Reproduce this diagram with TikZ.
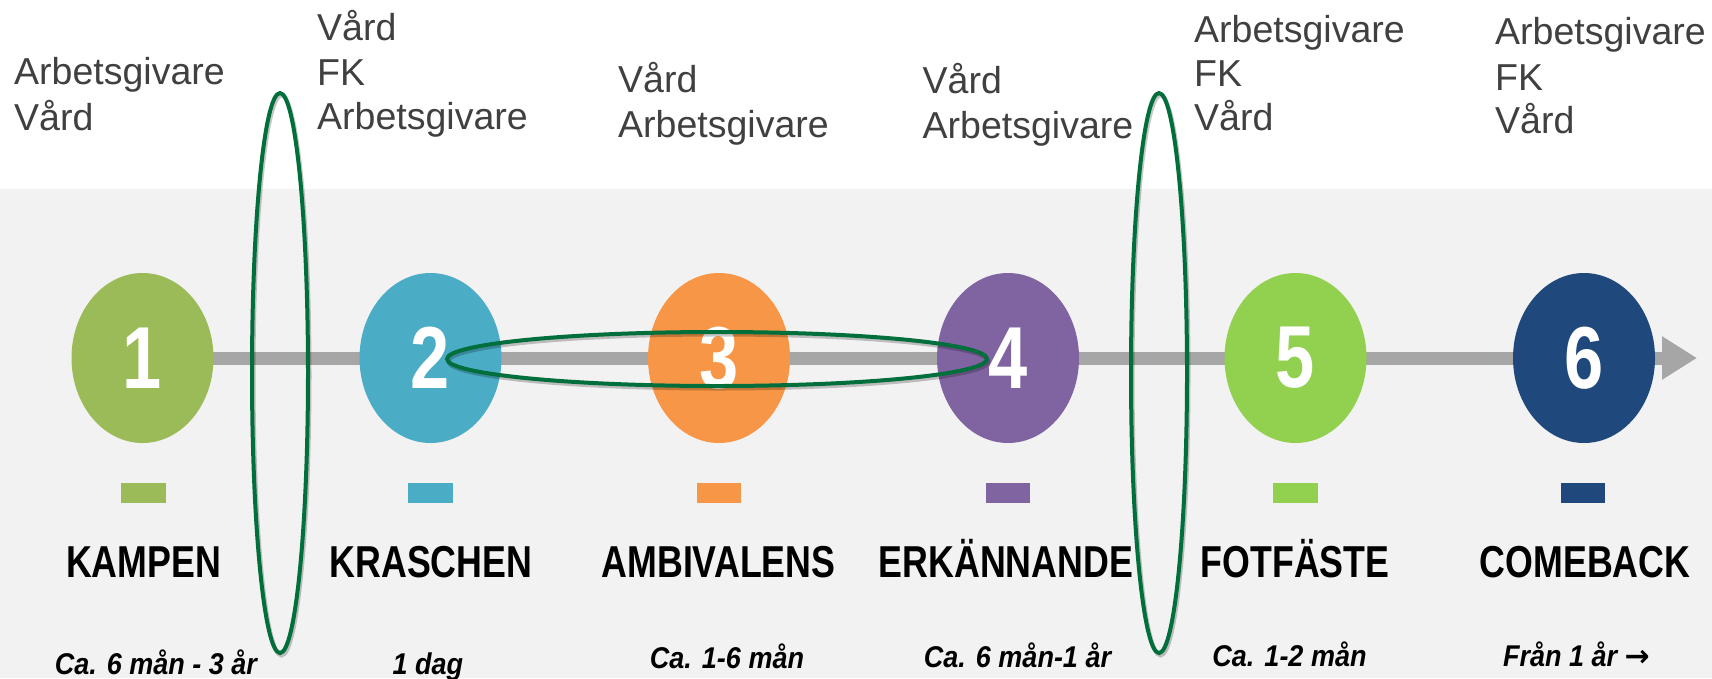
\documentclass[tikz,border=0pt]{standalone}
\usepackage{fontspec}
\setmainfont{Liberation Sans}
\newfontfamily\narrowsans[FakeStretch=0.8]{Liberation Sans}
\newfontfamily\slimsans[FakeStretch=0.9]{Liberation Sans}
\newfontfamily\arrowfont{DejaVu Sans}
\usetikzlibrary{arrows.meta,shapes.geometric}

\definecolor{bgcol}{HTML}{F2F2F2}
\definecolor{axiscol}{HTML}{A6A6A6}
\definecolor{textgray}{HTML}{404040}
\definecolor{ringgreen}{HTML}{006F3C}
\definecolor{phaseA}{HTML}{9BBB59}
\definecolor{phaseB}{HTML}{4BACC6}
\definecolor{phaseC}{HTML}{F79646}
\definecolor{phaseD}{HTML}{8064A2}
\definecolor{phaseE}{HTML}{92D050}
\definecolor{phaseF}{HTML}{1F497D}

\tikzset{
  phasedot/.style={ellipse, minimum width=142pt, minimum height=170pt, inner sep=0pt,
    text=white, font=\narrowsans\bfseries\fontsize{88}{88}\selectfont},
  tagbar/.style={rectangle, minimum width=44.7pt, minimum height=20pt, inner sep=0pt},
  stagelabel/.style={anchor=base, inner sep=0pt,
    font=\narrowsans\bfseries\fontsize{44.7}{50}\selectfont},
  spanlabel/.style={anchor=base, inner sep=0pt,
    font=\slimsans\bfseries\itshape\fontsize{30}{32}\selectfont},
  actorlabel/.style={anchor=base west, inner sep=0pt, text=textgray,
    font=\fontsize{37.5}{45}\selectfont},
  ringline/.style={draw=ringgreen, line width=4pt},
  ringshade/.style={draw=black, opacity=0.22, line width=4pt},
  axisline/.style={draw=axiscol, line width=13pt,
    -{Triangle[length=35pt,width=41pt]}}
}

\begin{document}
\begin{tikzpicture}[x=1pt,y=-1pt]
  \useasboundingbox (0,0) rectangle (1712,678);
  % backdrop
  \fill[white] (0,0) rectangle (1712,189);
  \fill[bgcol] (0,189) rectangle (1712,678);

  % timeline axis
  \coordinate (tip) at (1697,358);
  \coordinate (start) at (142.5,358);
  \draw[axisline] (start) -- (tip);

  % phases
  \node[phasedot, fill=phaseA] (c1) at (142.5,358) {1};
  \node[phasedot, fill=phaseB] (c2) at (430.5,358) {2};
  \node[phasedot, fill=phaseC] (c3) at (719,358) {3};
  \node[phasedot, fill=phaseD] (c4) at (1008,358) {4};
  \node[phasedot, fill=phaseE] (c5) at (1295.5,358) {5};
  \node[phasedot, fill=phaseF] (c6) at (1584,358) {6};

  % colour tags
  \node[tagbar, fill=phaseA] (t1) at (143.5,492.7) {};
  \node[tagbar, fill=phaseB] (t2) at (430.5,492.7) {};
  \node[tagbar, fill=phaseC] (t3) at (719,492.7) {};
  \node[tagbar, fill=phaseD] (t4) at (1008,492.7) {};
  \node[tagbar, fill=phaseE] (t5) at (1295.5,492.7) {};
  \node[tagbar, fill=phaseF] (t6) at (1583,492.7) {};

  % stage names
  \node[stagelabel] (s1) at (143.5,577) {KAMPEN};
  \node[stagelabel] (s2) at (431,577) {KRASCHEN};
  \node[stagelabel] (s3) at (718.5,577) {AMBIVALENS};
  \node[stagelabel] (s4) at (1006,577) {ERKÄNNANDE};
  \node[stagelabel] (s5) at (1295,577) {FOTFÄSTE};
  \node[stagelabel] (s6) at (1585,577) {COMEBACK};

  % durations
  \node[spanlabel] (d1) at (156,674) {Ca. 6 mån - 3 år};
  \node[spanlabel] (d2) at (428,674) {1 dag};
  \node[spanlabel] (d3) at (727,668.5) {Ca. 1-6 mån};
  \node[spanlabel] (d4) at (1017.5,667.5) {Ca. 6 mån-1 år};
  \node[spanlabel] (d5) at (1289.5,666.5) {Ca. 1-2 mån};
  \node[spanlabel] (d6) at (1576.5,666) {Från 1 år {\arrowfont\bfseries\fontsize{30}{32}\selectfont →}};

  % actors involved
  \node[actorlabel] (a1a) at (14,84) {Arbetsgivare};
  \node[actorlabel] (a1b) at (14,130) {Vård};
  \node[actorlabel] (a2a) at (317,40) {Vård};
  \node[actorlabel] (a2b) at (317,85) {FK};
  \node[actorlabel] (a2c) at (317,129) {Arbetsgivare};
  \node[actorlabel] (a3a) at (618,92.5) {Vård};
  \node[actorlabel] (a3b) at (618,137) {Arbetsgivare};
  \node[actorlabel] (a4a) at (922.5,93) {Vård};
  \node[actorlabel] (a4b) at (922.5,138) {Arbetsgivare};
  \node[actorlabel] (a5a) at (1194,42) {Arbetsgivare};
  \node[actorlabel] (a5b) at (1194,86) {FK};
  \node[actorlabel] (a5c) at (1194,130) {Vård};
  \node[actorlabel] (a6a) at (1495,44) {Arbetsgivare};
  \node[actorlabel] (a6b) at (1495,90) {FK};
  \node[actorlabel] (a6c) at (1495,133) {Vård};

  % highlight rings
  \draw[ringshade] (281.5,375.5) ellipse [x radius=28pt, y radius=280pt];
  \draw[ringline] (280,373) ellipse [x radius=28pt, y radius=280pt];
  \draw[ringshade] (1160.5,375.5) ellipse [x radius=28pt, y radius=280pt];
  \draw[ringline] (1159,373) ellipse [x radius=28pt, y radius=280pt];
  \draw[ringshade] (718.5,361.5) ellipse [x radius=270pt, y radius=27pt];
  \draw[ringline] (717,359) ellipse [x radius=270pt, y radius=27pt];
\end{tikzpicture}
\end{document}
